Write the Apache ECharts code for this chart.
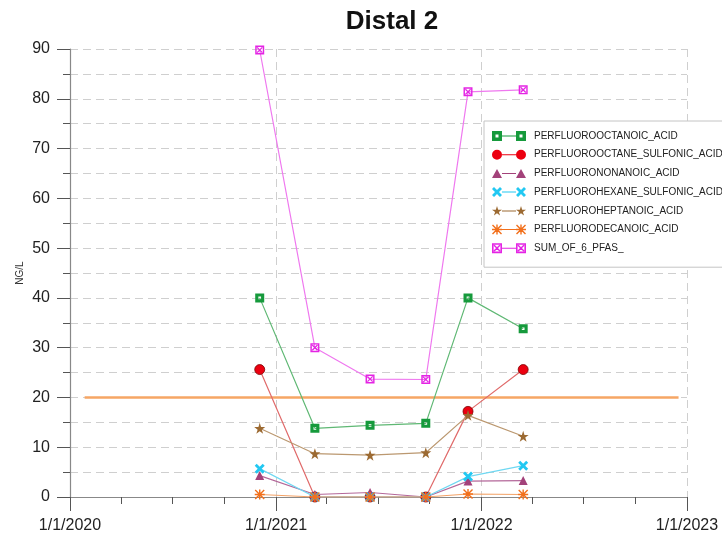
<!DOCTYPE html>
<html>
<head>
<meta charset="utf-8">
<title>Distal 2</title>
<script src="https://cdn.jsdelivr.net/npm/echarts@6/dist/echarts.min.js"></script>
<style>
  html, body { margin: 0; padding: 0; background: #fff; }
  #chart { width: 722px; height: 542px; }
</style>
</head>
<body>
<div id="chart"></div>
<script>
// Sampling dates
const sampleDates = ['2020-12-03', '2021-03-11', '2021-06-17', '2021-09-24', '2021-12-08', '2022-03-16'];

// Concentrations (NG/L)
const pfoa  = [40.0, 13.8, 14.4, 14.8, 40.0, 33.8];
const pfos  = [25.6, 0.0, 0.0, 0.0, 17.2, 25.6];
const pfna  = [4.3, 0.5, 0.9, 0.0, 3.2, 3.3];
const pfhxs = [5.7, 0.0, 0.0, 0.0, 4.1, 6.3];
const pfhpa = [13.8, 8.7, 8.4, 8.9, 16.4, 12.2];
const pfda  = [0.5, 0.0, 0.0, 0.0, 0.6, 0.5];
const sum6  = [89.8, 30.0, 23.7, 23.6, 81.4, 81.8];

// Reference level line
const limitValue = 20;
const limitSpan = ['2020-01-27', '2022-12-17'];

// Axis range
const xStart = '2020-01-01';
const xEnd = '2023-01-01';

// Marker shapes in a 10x10 box, shifted by dx (used for points and legend icons)
const shapes = {
  squareDot: dx => `M${dx},0L${dx + 10},0L${dx + 10},10L${dx},10Z M${dx + 3.5},3.5L${dx + 3.5},6.5L${dx + 6.5},6.5L${dx + 6.5},3.5Z`,
  circle: dx => `M${dx},5A5,5 0 1 1 ${dx + 10},5A5,5 0 1 1 ${dx},5Z`,
  triangle: dx => `M${dx + 5},0.5L${dx + 10},9.5L${dx},9.5Z`,
  cross: dx => `M${dx},2L${dx + 2},0L${dx + 5},3L${dx + 8},0L${dx + 10},2L${dx + 7},5L${dx + 10},8L${dx + 8},10L${dx + 5},7L${dx + 2},10L${dx},8L${dx + 3},5Z`,
  star: dx => `M${dx + 5},0L${dx + 6.18},3.6L${dx + 10},3.6L${dx + 6.9},5.9L${dx + 8.1},9.5L${dx + 5},7.3L${dx + 1.9},9.5L${dx + 3.1},5.9L${dx},3.6L${dx + 3.82},3.6Z`,
  asterisk: dx => `M${dx},4.3L${dx + 10},4.3L${dx + 10},5.7L${dx},5.7Z M${dx + 4.3},0L${dx + 5.7},0L${dx + 5.7},10L${dx + 4.3},10Z M${dx},1L${dx + 1},0L${dx + 10},9L${dx + 9},10Z M${dx + 9},0L${dx + 10},1L${dx + 1},10L${dx},9Z`,
  crossSquare: dx => `M${dx},0L${dx + 10},0L${dx + 10},10L${dx},10Z M${dx + 1.6},1.6L${dx + 1.6},8.4L${dx + 8.4},8.4L${dx + 8.4},1.6Z M${dx + 1.6},2.6L${dx + 2.6},1.6L${dx + 8.4},7.4L${dx + 7.4},8.4Z M${dx + 7.4},1.6L${dx + 8.4},2.6L${dx + 2.6},8.4L${dx + 1.6},7.4Z`
};
const symbolOf = s => 'path://' + shapes[s](0);
const legendIconOf = s => 'path://' + shapes[s](0) + ' M10,4.5L24,4.5L24,5.5L10,5.5Z ' + shapes[s](24);

const seriesDefs = [
  { name: 'PERFLUOROOCTANOIC_ACID', values: pfoa, shape: 'squareDot', size: 9, mark: '#169a3c', line: '#5fb874' },
  { name: 'PERFLUOROOCTANE_SULFONIC_ACID', values: pfos, shape: 'circle', size: 10, mark: '#ec0010', line: '#e06a6a', border: '#7a0000' },
  { name: 'PERFLUORONONANOIC_ACID', values: pfna, shape: 'triangle', size: 9, mark: '#a3427a', line: '#b4689a' },
  { name: 'PERFLUOROHEXANE_SULFONIC_ACID', values: pfhxs, shape: 'cross', size: 10, mark: '#22c8f2', line: '#6fd8f2' },
  { name: 'PERFLUOROHEPTANOIC_ACID', values: pfhpa, shape: 'star', size: 11, mark: '#9c6a32', line: '#bb9870' },
  { name: 'PERFLUORODECANOIC_ACID', values: pfda, shape: 'asterisk', size: 10, mark: '#f2701c', line: '#f3a266' },
  { name: 'SUM_OF_6_PFAS_', values: sum6, shape: 'crossSquare', size: 9, mark: '#e424e4', line: '#ef78ef' }
];

const fontFamily = 'Liberation Sans, Arial, sans-serif';
const fmtDate = v => { const d = new Date(v); return (d.getMonth() + 1) + '/' + d.getDate() + '/' + d.getFullYear(); };

const series = [{
  name: 'limit',
  type: 'line',
  data: limitSpan.map(d => [d, limitValue]),
  symbol: 'none',
  silent: true,
  lineStyle: { color: '#f6a665', width: 2.6 },
  z: 1
}].concat(seriesDefs.map((s, k) => ({
  name: s.name,
  type: 'line',
  data: sampleDates.map((d, i) => [d, s.values[i]]),
  symbol: symbolOf(s.shape),
  symbolSize: s.size,
  itemStyle: { color: s.mark, borderColor: s.border || s.mark, borderWidth: s.border ? 0.8 : 0 },
  lineStyle: { color: s.line, width: 1.2 },
  z: 3 + k
})));

const chart = echarts.init(document.getElementById('chart'), null, { renderer: 'canvas' });
chart.setOption({
  animation: false,
  backgroundColor: '#fff',
  textStyle: { fontFamily },
  title: {
    text: 'Distal 2',
    left: 387,
    top: 4,
    textAlign: 'center',
    textStyle: { fontSize: 26, fontWeight: 'bold', color: '#111', fontFamily }
  },
  legend: {
    orient: 'vertical',
    left: 484,
    top: 121,
    padding: [10, 60, 14, 8],
    itemWidth: 34,
    itemHeight: 10,
    itemGap: 8.7,
    borderColor: '#c4c4c4',
    borderWidth: 1,
    backgroundColor: '#fff',
    textStyle: { fontSize: 10, color: '#222', fontFamily, padding: [0, 0, 0, 3] },
    data: seriesDefs.map(s => ({ name: s.name, icon: legendIconOf(s.shape), itemStyle: { borderWidth: 0 } }))
  },
  grid: { left: 70, right: 35, top: 49, bottom: 45 },
  xAxis: [{
    type: 'time',
    min: xStart,
    max: xEnd,
    splitNumber: 3,
    axisLine: { show: true, lineStyle: { color: '#888', width: 1.2 } },
    axisTick: { show: true, length: 14, lineStyle: { color: '#555' } },
    axisLabel: { fontSize: 16, color: '#222', margin: 21, formatter: fmtDate, showMinLabel: true, showMaxLabel: true, hideOverlap: false },
    splitLine: { show: true, lineStyle: { color: '#cfcfcf', type: [8, 5], width: 1 } }
  }, {
    type: 'time',
    min: xStart,
    max: xEnd,
    splitNumber: 12,
    position: 'bottom',
    axisLine: { show: false },
    axisTick: { show: true, length: 7, lineStyle: { color: '#555' } },
    axisLabel: { show: false },
    splitLine: { show: false }
  }],
  yAxis: {
    type: 'value',
    min: 0,
    max: 90,
    interval: 10,
    name: 'NG/L',
    nameLocation: 'middle',
    nameGap: 45,
    nameMoveOverlap: false,
    nameTextStyle: { fontSize: 10, color: '#333', fontFamily },
    axisLine: { show: true, lineStyle: { color: '#888', width: 1.2 } },
    axisTick: { show: true, length: 13, lineStyle: { color: '#555' } },
    minorTick: { show: true, splitNumber: 2, length: 7, lineStyle: { color: '#555' } },
    axisLabel: { fontSize: 16, color: '#222', margin: 20 },
    splitLine: { show: true, lineStyle: { color: '#cfcfcf', type: [8, 5], width: 1 } },
    minorSplitLine: { show: true, lineStyle: { color: '#cfcfcf', type: [8, 5], width: 1 } }
  },
  series
});
</script>
</body>
</html>
